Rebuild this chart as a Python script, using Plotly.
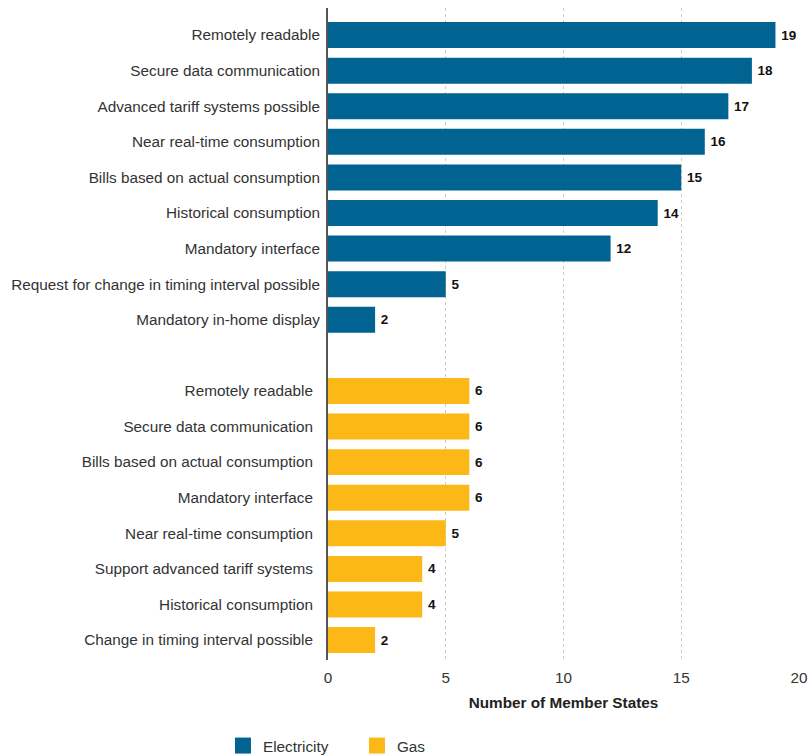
import plotly.graph_objects as go

elec_labels = ["Remotely readable", "Secure data communication", "Advanced tariff systems possible",
               "Near real-time consumption", "Bills based on actual consumption", "Historical consumption",
               "Mandatory interface", "Request for change in timing interval possible", "Mandatory in-home display"]
elec_values = [19, 18, 17, 16, 15, 14, 12, 5, 2]

gas_labels = ["Remotely readable", "Secure data communication", "Bills based on actual consumption",
              "Mandatory interface", "Near real-time consumption", "Support advanced tariff systems",
              "Historical consumption", "Change in timing interval possible"]
gas_values = [6, 6, 6, 6, 5, 4, 4, 2]

x_ticks = [0, 5, 10, 15, 20]

elec_pos = list(range(len(elec_labels)))
gas_pos = [len(elec_labels) + 1 + i for i in range(len(gas_labels))]

FONT = "Liberation Sans, Arial, sans-serif"
BLUE = "#006391"
YELLOW = "#FBB817"

fig = go.Figure()
fig.add_trace(go.Bar(
    x=elec_values, y=elec_pos, orientation="h", name="Electricity", showlegend=False,
    marker=dict(color=BLUE, line=dict(width=0)),
    text=[f"\u2009<b>{v}</b>" for v in elec_values], textposition="outside",
    textfont=dict(size=13.5, color="#111", family=FONT), cliponaxis=False,
    yaxis="y",
))
fig.add_trace(go.Bar(
    x=gas_values, y=gas_pos, orientation="h", name="Gas", showlegend=False,
    marker=dict(color=YELLOW, line=dict(width=0)),
    text=[f"\u2009<b>{v}</b>" for v in gas_values], textposition="outside",
    textfont=dict(size=13.5, color="#111", family=FONT), cliponaxis=False,
    yaxis="y2",
))
# legend entries
for name, col in [("Electricity", BLUE), ("Gas", YELLOW)]:
    fig.add_trace(go.Scatter(x=[None], y=[None], mode="markers", name=name,
                             marker=dict(symbol="square", size=16, color=col), showlegend=True))

yrange = [17.56, -0.76]
fig.update_layout(
    width=811, height=755,
    margin=dict(l=328, r=12, t=8, b=95, autoexpand=False),
    paper_bgcolor="white", plot_bgcolor="white",
    font=dict(family=FONT, size=15.3, color="#333"),
    bargap=0.27, barmode="overlay",
    xaxis=dict(
        range=[0, 20], tickvals=x_ticks, showgrid=True, gridcolor="#cccccc", griddash="dot",
        gridwidth=1, zeroline=False, showline=False, ticks="", automargin=False,
        ticklabelstandoff=7,
        tickfont=dict(size=15.3, color="#333"),
        title=dict(text="<b>Number of Member States</b>", font=dict(size=15.3, color="#222"), standoff=11),
    ),
    yaxis=dict(
        range=yrange, tickvals=elec_pos, ticktext=elec_labels, showgrid=False, zeroline=False,
        showline=True, linecolor="#555", linewidth=2, ticks="", ticklabelstandoff=3, automargin=False,
        tickfont=dict(size=15.3, color="#333"),
    ),
    yaxis2=dict(
        range=yrange, tickvals=gas_pos, ticktext=gas_labels, showgrid=False, zeroline=False,
        showline=False, ticks="", overlaying="y", side="left", matches="y", ticklabelstandoff=14,
        automargin=False, tickfont=dict(size=15.3, color="#333"),
    ),
    showlegend=True,
    legend=dict(orientation="h", x=-0.223, xanchor="left", y=-0.106, yanchor="top",
                font=dict(size=15.3, color="#333"), itemwidth=30, entrywidth=89,
                traceorder="normal", bgcolor="rgba(0,0,0,0)"),
)

fig.write_html("out.html", config={"displayModeBar": False},
               post_script="document.body.style.margin='0';document.documentElement.style.overflow='hidden';")
